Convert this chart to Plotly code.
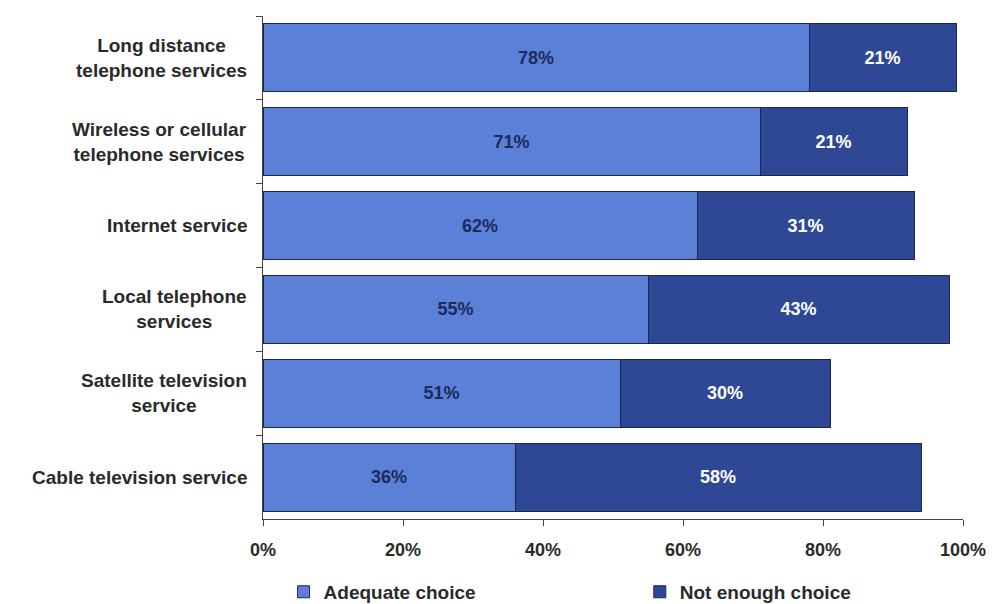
import plotly.graph_objects as go

# Survey categories (top to bottom) and response shares in percent
categories = [
    "Long distance<br>telephone services",
    "Wireless or cellular<br>telephone services",
    "Internet service",
    "Local telephone<br>services",
    "Satellite television<br>service",
    "Cable television service",
]
adequate_choice = [78, 71, 62, 55, 51, 36]
not_enough_choice = [21, 21, 31, 43, 30, 58]
x_ticks = [0, 20, 40, 60, 80, 100]
x_tick_labels = [f"{v}%" for v in x_ticks]

LIGHT = "#5a80d7"
DARK = "#2e4896"
OUTLINE = "#1b2552"
FONT = "Liberation Sans, Arial, sans-serif"

fig = go.Figure()
fig.add_trace(go.Bar(
    name="Adequate choice", legend="legend",
    y=categories, x=adequate_choice, orientation="h",
    marker=dict(color=LIGHT, line=dict(color=OUTLINE, width=1)),
    text=[f"{v}%" for v in adequate_choice],
    textposition="inside", insidetextanchor="middle",
    textfont=dict(family=FONT, size=18, color="#1e2a5c", weight="bold"),
))
fig.add_trace(go.Bar(
    name="Not enough choice", legend="legend2",
    y=categories, x=not_enough_choice, orientation="h",
    marker=dict(color=DARK, line=dict(color=OUTLINE, width=1)),
    text=[f"{v}%" for v in not_enough_choice],
    textposition="inside", insidetextanchor="middle",
    textfont=dict(family=FONT, size=18, color="white", weight="bold"),
))

# Category labels, centred line by line to the left of the axis
for cat in categories:
    fig.add_annotation(
        x=0, xref="paper", y=cat, yref="y",
        text=cat, showarrow=False, xanchor="right", xshift=-14,
        align="center",
        font=dict(family=FONT, size=19, color="#2a2a2a", weight="bold"),
    )

legend_style = dict(
    orientation="h", xanchor="left",
    xref="container", yref="container", y=0.02, yanchor="middle",
    font=dict(family=FONT, size=19, color="#2a2a2a", weight="bold"),
    bgcolor="rgba(0,0,0,0)",
)

fig.update_layout(
    width=995, height=604,
    margin=dict(l=263, r=32, t=16, b=85, autoexpand=False),
    barmode="stack", bargap=0.19,
    plot_bgcolor="white", paper_bgcolor="white",
    showlegend=True,
    legend=dict(x=0.285, **legend_style),
    legend2=dict(x=0.643, **legend_style),
)
fig.update_xaxes(
    range=[0, 100], tickmode="array", tickvals=x_ticks, ticktext=x_tick_labels,
    showgrid=False, zeroline=False,
    showline=True, linecolor="#444", linewidth=1,
    ticks="outside", ticklen=6, tickcolor="#444", ticklabelstandoff=8,
    tickfont=dict(family=FONT, size=18, color="#2a2a2a", weight="bold"),
)
fig.update_yaxes(
    categoryorder="array", categoryarray=categories, autorange="reversed",
    showticklabels=False, showgrid=False,
    showline=True, linecolor="#444", linewidth=1,
    ticks="outside", ticklen=6, tickcolor="#444", tickson="boundaries",
)

fig.write_html("out.html")
